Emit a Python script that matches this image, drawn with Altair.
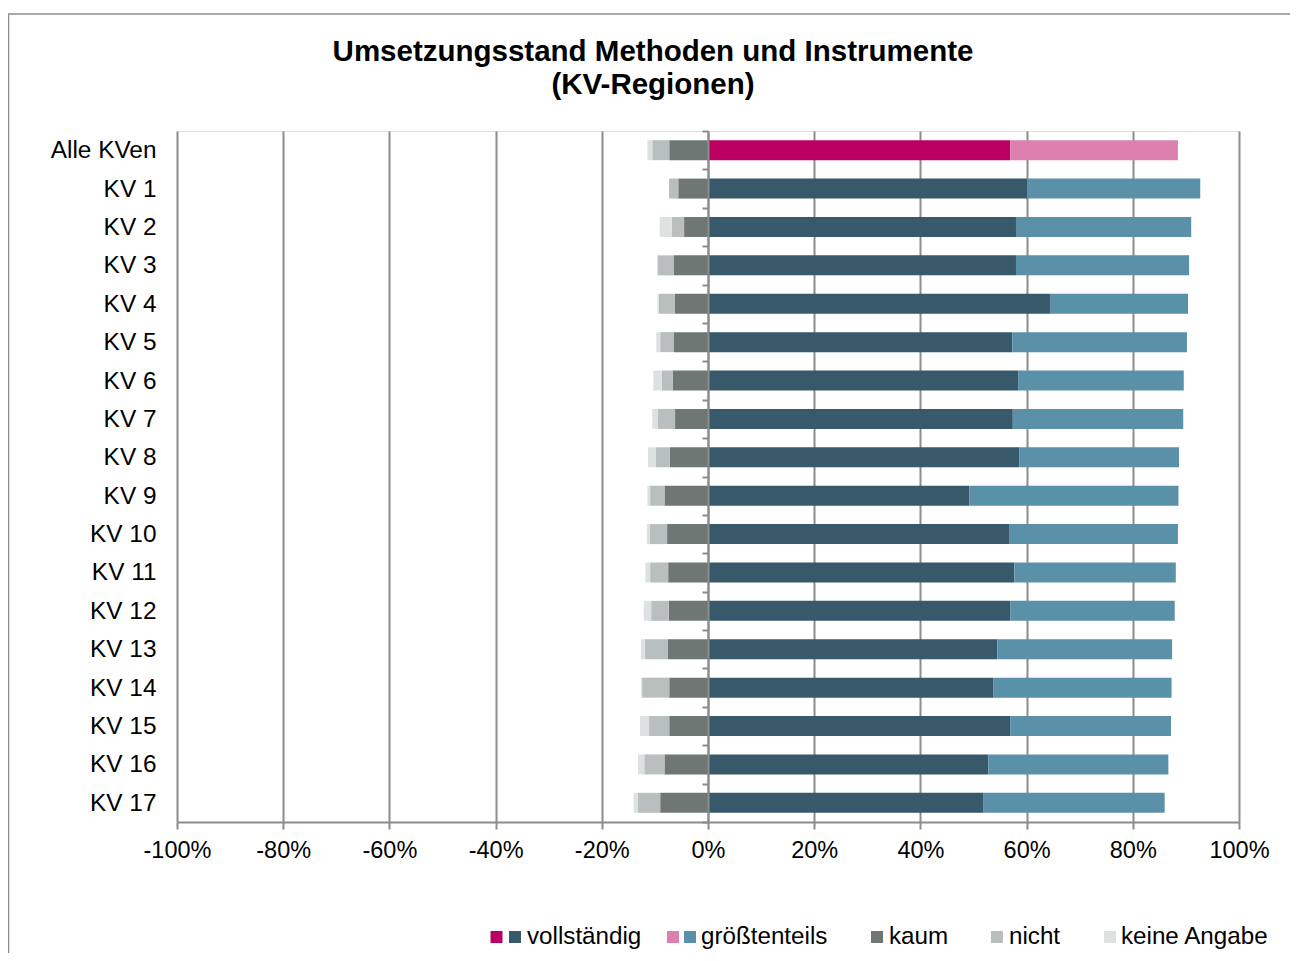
import altair as alt
import pandas as pd

# ---------------- data (percent) ----------------
categories = ["Alle KVen"] + [f"KV {i}" for i in range(1, 18)]
vollstaendig = [56.9, 60.1, 58.0, 58.0, 64.4, 57.3, 58.4, 57.4, 58.6, 49.2,
                56.7, 57.7, 56.9, 54.5, 53.7, 56.9, 52.8, 51.8]
groesstenteils = [31.6, 32.6, 33.0, 32.6, 26.0, 32.9, 31.2, 32.1, 30.1, 39.4,
                  31.8, 30.4, 31.0, 32.9, 33.6, 30.3, 33.9, 34.2]
kaum = [7.3, 5.6, 4.5, 6.4, 6.3, 6.4, 6.6, 6.2, 7.2, 8.2,
        7.7, 7.5, 7.4, 7.6, 7.3, 7.3, 8.2, 9.0]
nicht = [3.2, 1.75, 2.3, 3.0, 3.0, 2.6, 2.1, 3.3, 2.6, 2.7,
         3.3, 3.4, 3.3, 4.3, 5.1, 3.8, 3.8, 4.2]
keine_angabe = [0.9, 0.0, 2.3, 0.2, 0.2, 0.75, 1.6, 1.0, 1.5, 0.5,
                0.5, 0.9, 1.4, 0.75, 0.2, 1.7, 1.2, 0.8]

tick_values = [-1.0, -0.8, -0.6, -0.4, -0.2, 0.0, 0.2, 0.4, 0.6, 0.8, 1.0]

title_lines = ["Umsetzungsstand Methoden und Instrumente", "(KV-Regionen)"]

color_keys = ["voll_alle", "gr_alle", "voll", "gr", "kaum", "nicht", "keine"]
color_range = ["#BC0062", "#DC80B0", "#37596A", "#5A91A9", "#6E7773", "#B9BEBE", "#DEE1E1"]

legend_labels = ["vollständig", "größtenteils", "kaum", "nicht", "keine Angabe"]
legend_text_px = [350, 524, 712, 832, 944]
legend_swatch_px = [319.5, 338, 496, 513, 700, 820, 933]
legend_swatch_colors = ["#BC0062", "#37596A", "#DC80B0", "#5A91A9", "#6E7773", "#B9BEBE", "#DEE1E1"]

GRID = "#8C8C8C"
FONT = "Liberation Sans"

# ---------------- build table ----------------
rows = []
for i, cat in enumerate(categories):
    alle = (i == 0)
    v, g = vollstaendig[i] / 100, groesstenteils[i] / 100
    k, n, ka = kaum[i] / 100, nicht[i] / 100, keine_angabe[i] / 100
    rows.append(dict(cat=cat, key="voll_alle" if alle else "voll", x0=0, x1=v))
    rows.append(dict(cat=cat, key="gr_alle" if alle else "gr", x0=v, x1=v + g))
    rows.append(dict(cat=cat, key="kaum", x0=-k, x1=0))
    rows.append(dict(cat=cat, key="nicht", x0=-(k + n), x1=-k))
    if ka > 0:
        rows.append(dict(cat=cat, key="keine", x0=-(k + n + ka), x1=-(k + n)))
df = pd.DataFrame(rows)

yscale = alt.Scale(domain=categories, paddingInner=0, paddingOuter=0)

xaxis = alt.Axis(
    values=tick_values, title=None,
    labelExpr="(datum.value < 0 ? '-' : '') + format(abs(datum.value), '.0%')",
    labelFont=FONT, labelFontSize=23.5, labelColor="black", labelPadding=9,
    labelFlush=False, labelOverlap=False,
    grid=True, gridColor=GRID, gridWidth=2,
    domainColor=GRID, domainWidth=2,
    tickColor=GRID, tickWidth=2, tickSize=7,
)

bars = alt.Chart(df).mark_bar(size=20).encode(
    x=alt.X("x0:Q", scale=alt.Scale(domain=[-1, 1], nice=False), axis=xaxis),
    x2="x1:Q",
    y=alt.Y("cat:N", sort=categories, scale=yscale,
            axis=alt.Axis(title=None, domain=False, ticks=False, tickSize=0,
                          labelFont=FONT, labelFontSize=24.4, labelColor="black",
                          labelPadding=21, labelOffset=1)),
    color=alt.Color("key:N", scale=alt.Scale(domain=color_keys, range=color_range), legend=None),
)

zero_axis = alt.Chart(pd.DataFrame({"cat": categories})).mark_point(opacity=0).encode(
    x=alt.value(0),
    y=alt.Y("cat:N", sort=categories, scale=yscale,
            axis=alt.Axis(orient="left", offset=-531, labels=False, title=None,
                          domain=True, domainColor=GRID, domainWidth=2,
                          ticks=True, tickBand="extent", tickSize=6,
                          tickColor=GRID, tickWidth=2, grid=False, zindex=1)),
)

border = alt.Chart(pd.DataFrame({"a": [0]})).mark_rect(
    filled=False, stroke=GRID, strokeWidth=1.5
).encode(
    x=alt.value(-168.5), x2=alt.value(1200), y=alt.value(-117), y2=alt.value(900)
)

title_df = pd.DataFrame({"t": title_lines, "py": [-79, -46]})
title = alt.Chart(title_df).mark_text(
    align="center", baseline="middle", font=FONT, fontSize=29.5,
    fontWeight="bold", color="black"
).encode(
    x=alt.value(476),
    y=alt.Y("py:Q", scale=None),
    text="t:N",
)

sw_df = pd.DataFrame({"px": legend_swatch_px, "c": legend_swatch_colors})
swatches = alt.Chart(sw_df).mark_square(size=144, opacity=1).encode(
    x=alt.X("px:Q", scale=None),
    y=alt.value(806),
    color=alt.Color("c:N", scale=None),
)
lt_df = pd.DataFrame({"px": legend_text_px, "t": legend_labels})
legend_text = alt.Chart(lt_df).mark_text(
    align="left", baseline="middle", font=FONT, fontSize=24.2, color="black"
).encode(
    x=alt.X("px:Q", scale=None),
    y=alt.value(806),
    text="t:N",
)

chart = alt.layer(border, bars, zero_axis, title, swatches, legend_text).resolve_axis(
    y="independent"
).properties(
    width=1062, height=691,
    autosize=alt.AutoSizeParams(type="none"),
    padding={"left": 169, "top": 123, "right": 51, "bottom": 131},
).configure_view(stroke=None).configure(background="white")

chart.save("out.html", embed_options={"renderer": "svg", "actions": False})
